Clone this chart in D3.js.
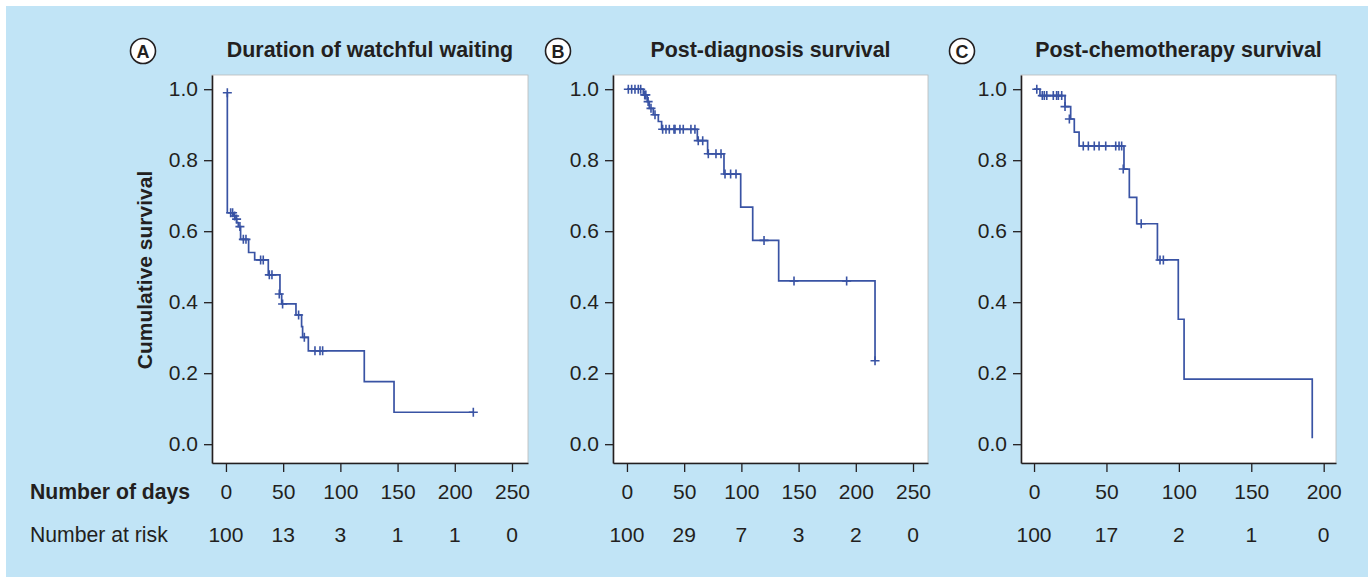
<!DOCTYPE html>
<html>
<head>
<meta charset="utf-8">
<script src="https://cdn.jsdelivr.net/npm/d3@7"></script>
<style>
  body { margin: 0; background: #fff; }
  text { font-family: "Liberation Sans", Arial, Helvetica, sans-serif; fill: #231f20; }
</style>
</head>
<body>
<div id="chart"></div>
<script>
// ---- data ----
const dayTicksAB = [0, 50, 100, 150, 200, 250];
const dayTicksC = [0, 50, 100, 150, 200];
const survTicks = [0, 0.2, 0.4, 0.6, 0.8, 1.0];

const riskA = [100, 13, 3, 1, 1, 0];
const riskB = [100, 29, 7, 3, 2, 0];
const riskC = [100, 17, 2, 1, 0];

// step curves: [day, survival from that day on]
const stepsA = [[1.2, 0.99], [1.2, 0.652], [6.4, 0.643], [7.9, 0.634], [9.3, 0.624], [10.8, 0.613],
  [12.8, 0.577], [19.8, 0.540], [25.1, 0.519], [37, 0.477], [47.2, 0.423], [48.7, 0.395],
  [61.2, 0.364], [66.1, 0.331], [67, 0.301], [72, 0.263], [120.9, 0.176], [146.9, 0.090], [216.2, 0.090]];
const censA = [[1.2, 0.99], [4.1, 0.652], [5.8, 0.652], [7.6, 0.643], [9.3, 0.634], [12.2, 0.613],
  [15.2, 0.577], [17.5, 0.577], [30.3, 0.519], [32.6, 0.519], [37.9, 0.477], [40.2, 0.477],
  [46.6, 0.423], [49.5, 0.395], [63.5, 0.364], [68.5, 0.301], [77.8, 0.263], [82.2, 0.263],
  [84.5, 0.263], [216.2, 0.090]];

const stepsB = [[0, 1.0], [14.3, 0.984], [17.7, 0.965], [19.5, 0.946], [23, 0.928], [27.4, 0.909],
  [30.3, 0.887], [61.5, 0.855], [70.5, 0.818], [84.8, 0.761], [99.4, 0.668], [109.9, 0.574],
  [132.6, 0.46], [216.8, 0.46], [216.8, 0.235]];
const censB = [[1.2, 1], [4.1, 1], [7, 1], [9.9, 1], [12, 1], [15.5, 0.984], [16.5, 0.984],
  [18.5, 0.965], [21, 0.946], [24.5, 0.928], [31.2, 0.887], [34.1, 0.887], [37, 0.887],
  [41.1, 0.887], [42, 0.887], [46.3, 0.887], [49.2, 0.887], [55.9, 0.887], [59.4, 0.887],
  [62.3, 0.855], [66.2, 0.855], [71.1, 0.818], [77.8, 0.818], [82.2, 0.818], [85.7, 0.761],
  [90.6, 0.761], [95.3, 0.761], [119.8, 0.574], [146, 0.46], [192, 0.46], [216.8, 0.235]];

const stepsC = [[0, 1.0], [4.1, 0.982], [21.4, 0.951], [25.3, 0.916], [27.8, 0.879], [31.1, 0.840],
  [62.1, 0.775], [65.8, 0.695], [70.9, 0.621], [85.2, 0.519], [99.6, 0.352], [103.6, 0.183],
  [192.1, 0.183], [192.1, 0.017]];
const censC = [[1.9, 1.0], [5.7, 0.982], [7.1, 0.982], [8.8, 0.982], [13.3, 0.982], [15.6, 0.982],
  [16.8, 0.982], [19.1, 0.982], [21.4, 0.951], [24.4, 0.916], [34, 0.840], [37.5, 0.840],
  [41.6, 0.840], [44.9, 0.840], [49.5, 0.840], [56.4, 0.840], [58.7, 0.840], [60.5, 0.840],
  [61.6, 0.775], [74, 0.621], [87, 0.519], [89.3, 0.519]];

const panels = [
  { letter: "A", title: "Duration of watchful waiting", steps: stepsA, cens: censA, ticks: dayTicksAB, risk: riskA,
    left: 212, right: 528, domain: [-12.2, 264], circleX: 143 },
  { letter: "B", title: "Post-diagnosis survival", steps: stepsB, cens: censB, ticks: dayTicksAB, risk: riskB,
    left: 613, right: 928, domain: [-12.2, 263.1], circleX: 558 },
  { letter: "C", title: "Post-chemotherapy survival", steps: stepsC, cens: censC, ticks: dayTicksC, risk: riskC,
    left: 1021, right: 1336, domain: [-9, 208.5], circleX: 962 }
];

const W = 1368, H = 577;
const plotTop = 75, plotBottom = 463;
const lineColor = "#3953a4";
const ink = "#231f20";

const svg = d3.select("#chart")
  .append("svg")
    .attr("width", W)
    .attr("height", H);

svg.append("rect")
  .attr("x", 6).attr("y", 6)
  .attr("width", W - 6).attr("height", H - 6)
  .attr("fill", "#c1e4f6");

const y = d3.scaleLinear().domain([-0.053, 1.04]).range([plotBottom, plotTop]);

function drawPanel(p) {
  const x = d3.scaleLinear().domain(p.domain).range([p.left, p.right]);
  const g = svg.append("g");

  // plot box
  g.append("rect")
    .attr("x", p.left).attr("y", plotTop)
    .attr("width", p.right - p.left).attr("height", plotBottom - plotTop)
    .attr("fill", "#fff")
    .attr("stroke", "#b9b9b9")
    .attr("stroke-width", 0.8);

  // y axis
  const yAxis = g.append("g")
    .attr("transform", "translate(" + p.left + ",0)")
    .call(d3.axisLeft(y).tickValues(survTicks).tickFormat(d3.format(".1f")).tickSize(8).tickSizeOuter(0).tickPadding(6));
  // x axis
  const xAxis = g.append("g")
    .attr("transform", "translate(0," + plotBottom + ")")
    .call(d3.axisBottom(x).tickValues(p.ticks).tickSize(9).tickSizeOuter(0).tickPadding(12));
  [yAxis, xAxis].forEach(function (a) {
    a.select(".domain").attr("stroke", ink).attr("stroke-width", 1.6);
    a.selectAll(".tick line").attr("stroke", ink).attr("stroke-width", 1.3);
    a.selectAll(".tick text")
      .attr("fill", ink)
      .style("font-size", "21px")
      .style("font-family", "'Liberation Sans', Arial, sans-serif");
  });

  // number at risk row
  g.selectAll(".risk")
    .data(p.risk)
    .enter()
    .append("text")
      .attr("x", function (d, i) { return x(p.ticks[i]); })
      .attr("y", 542)
      .attr("text-anchor", "middle")
      .style("font-size", "21px")
      .text(function (d) { return d; });

  // survival curve
  const line = d3.line()
    .x(function (d) { return x(d[0]); })
    .y(function (d) { return y(d[1]); })
    .curve(d3.curveStepAfter);
  g.append("path")
    .datum(p.steps)
    .attr("d", line)
    .attr("fill", "none")
    .attr("stroke", lineColor)
    .attr("stroke-width", 1.7);

  // censor marks
  const s = 4.5;
  g.selectAll(".cens")
    .data(p.cens)
    .enter()
    .append("path")
      .attr("d", function (d) {
        const cx = x(d[0]), cy = y(d[1]);
        return "M" + (cx - s) + "," + cy + "H" + (cx + s) + "M" + cx + "," + (cy - s) + "V" + (cy + s);
      })
      .attr("stroke", lineColor)
      .attr("stroke-width", 1.6);

  // title and letter
  g.append("text")
    .attr("x", (p.left + p.right) / 2)
    .attr("y", 57)
    .attr("text-anchor", "middle")
    .style("font-size", "21.4px")
    .style("font-weight", "bold")
    .text(p.title);
  g.append("circle")
    .attr("cx", p.circleX).attr("cy", 51)
    .attr("r", 12.5)
    .attr("fill", "#fff")
    .attr("stroke", ink)
    .attr("stroke-width", 1.6);
  g.append("text")
    .attr("x", p.circleX).attr("y", 57.5)
    .attr("text-anchor", "middle")
    .style("font-size", "18px")
    .style("font-weight", "bold")
    .text(p.letter);
}

panels.forEach(drawPanel);

// row labels
svg.append("text")
  .attr("x", 30).attr("y", 499)
  .style("font-size", "21.2px")
  .style("font-weight", "bold")
  .text("Number of days");
svg.append("text")
  .attr("x", 30).attr("y", 542)
  .style("font-size", "21.2px")
  .text("Number at risk");

svg.append("text")
  .attr("transform", "translate(152,270) rotate(-90)")
  .attr("text-anchor", "middle")
  .style("font-size", "21px")
  .style("font-weight", "bold")
  .text("Cumulative survival");
</script>
</body>
</html>
